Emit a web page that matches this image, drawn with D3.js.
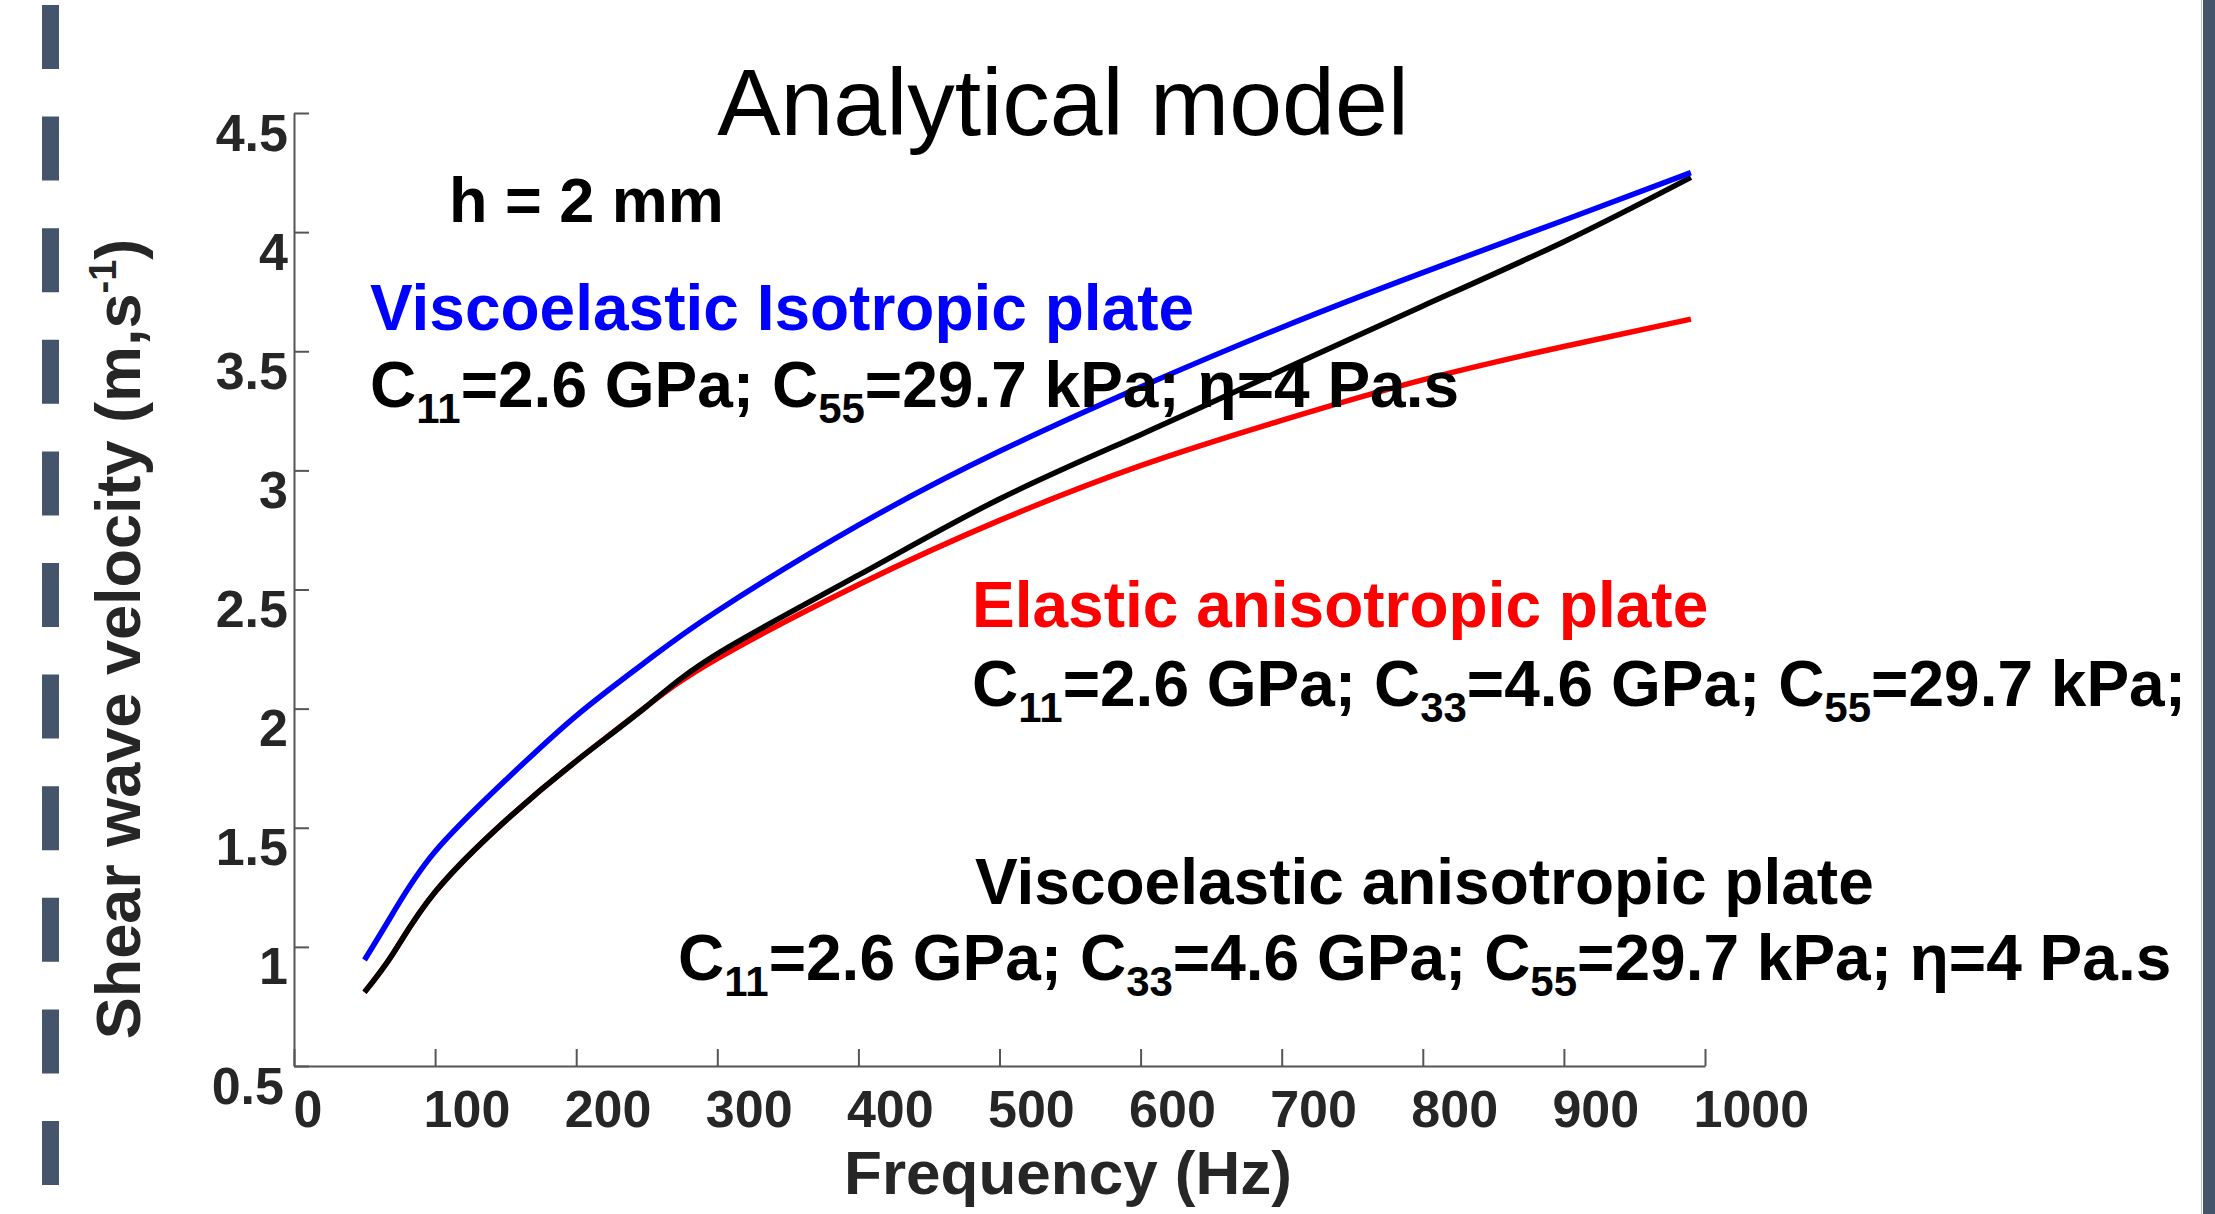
<!DOCTYPE html>
<html>
<head>
<meta charset="utf-8">
<script src="https://cdn.jsdelivr.net/npm/d3@7"></script>
<style>
  html, body { margin: 0; padding: 0; background: #ffffff; }
  svg { display: block; }
  text { font-family: "Liberation Sans", Arial, Helvetica, sans-serif; }
</style>
</head>
<body>
<svg id="chart" width="2215" height="1214"></svg>
<script>
// ---------- data ----------
const frequencies = [50, 70, 100, 150, 200, 250, 300, 400, 500, 600, 700, 800, 900, 990];
const viscoIsotropic   = [0.945, 1.14, 1.40, 1.70, 1.97, 2.20, 2.41, 2.77, 3.08, 3.35, 3.60, 3.83, 4.05, 4.25];
const elasticAniso     = [0.81, 0.97, 1.23, 1.53, 1.78, 2.01, 2.21, 2.52, 2.79, 3.02, 3.21, 3.38, 3.52, 3.635];
const viscoAniso       = [0.81, 0.97, 1.23, 1.53, 1.78, 2.01, 2.23, 2.56, 2.88, 3.15, 3.42, 3.69, 3.96, 4.23];
const xTickValues = [0, 100, 200, 300, 400, 500, 600, 700, 800, 900, 1000];
const yTickValues = [0.5, 1, 1.5, 2, 2.5, 3, 3.5, 4, 4.5];
const yTickLabels = ["0.5", "1", "1.5", "2", "2.5", "3", "3.5", "4", "4.5"];
const titleText = "Analytical model";
const xLabelText = "Frequency (Hz)";
const thicknessText = "h = 2 mm";
const seriesNames = ["Viscoelastic Isotropic plate", "Elastic anisotropic plate", "Viscoelastic anisotropic plate"];
// parameter lines: [main text, subscript] pairs
const paramsIso = [["C", "11"], ["=2.6 GPa; C", "55"], ["=29.7 kPa; \u03b7=4 Pa.s", ""]];
const paramsElastic = [["C", "11"], ["=2.6 GPa; C", "33"], ["=4.6 GPa; C", "55"], ["=29.7 kPa;", ""]];
const paramsVisco = [["C", "11"], ["=2.6 GPa; C", "33"], ["=4.6 GPa; C", "55"], ["=29.7 kPa; \u03b7=4 Pa.s", ""]];

// ---------- layout ----------
const svg = d3.select("#chart");
const plotLeft = 294, plotRight = 1705, plotTop = 113, plotBottom = 1066;
const x = d3.scaleLinear().domain([0, 1000]).range([plotLeft, plotRight]);
const y = d3.scaleLinear().domain([0.5, 4.5]).range([plotBottom, plotTop]);

const slate = "#44546a";
const axisColor = "#555555";
const textColor = "#262626";

// decorative borders
svg.append("line")
  .attr("x1", 50.5).attr("x2", 50.5).attr("y1", 5).attr("y2", 1214)
  .attr("stroke", slate).attr("stroke-width", 17)
  .attr("stroke-dasharray", "64 47.6");
svg.append("rect").attr("x", 2203).attr("y", 0).attr("width", 12).attr("height", 1214).attr("fill", slate);
svg.append("line").attr("x1", 2201.5).attr("x2", 2201.5).attr("y1", 0).attr("y2", 1214)
  .attr("stroke", "#b9bec6").attr("stroke-width", 1);

// ---------- axes ----------
const xAxis = d3.axisBottom(x).tickValues(xTickValues).tickSizeInner(-17).tickSizeOuter(0).tickFormat(d3.format("d"));
const gx = svg.append("g").attr("transform", `translate(0,${plotBottom})`).call(xAxis);
gx.select(".domain").attr("stroke", axisColor).attr("stroke-width", 2);
gx.selectAll(".tick line").attr("stroke", axisColor).attr("stroke-width", 2);
gx.selectAll(".tick text")
  .attr("fill", textColor).attr("font-size", 52).attr("font-weight", "bold")
  .attr("font-family", "Liberation Sans, Arial, sans-serif")
  .attr("text-anchor", "start").attr("x", d => d === 0 ? -1 : -12).attr("y", 61).attr("dy", 0);

const yAxis = d3.axisLeft(y).tickValues(yTickValues).tickSizeInner(-15).tickSizeOuter(0)
  .tickFormat((d, i) => yTickLabels[i]);
const gy = svg.append("g").attr("transform", `translate(${plotLeft},0)`).call(yAxis);
gy.select(".domain").attr("stroke", axisColor).attr("stroke-width", 2);
gy.selectAll(".tick line").attr("stroke", axisColor).attr("stroke-width", 2);
gy.selectAll(".tick text")
  .attr("fill", textColor).attr("font-size", 52).attr("font-weight", "bold")
  .attr("font-family", "Liberation Sans, Arial, sans-serif")
  .attr("text-anchor", "end").attr("x", d => d === 0.5 ? -10 : -6).attr("y", 37).attr("dy", 0);

// ---------- curves ----------
const line = d3.line().x((d, i) => x(frequencies[i])).y(d => y(d)).curve(d3.curveNatural);
const series = [
  { values: elasticAniso, color: "#ff0000" },
  { values: viscoAniso, color: "#000000" },
  { values: viscoIsotropic, color: "#0000ff" }
];
svg.append("g").selectAll("path").data(series).join("path")
  .attr("d", d => line(d.values))
  .attr("fill", "none").attr("stroke", d => d.color).attr("stroke-width", 5.5)
  .attr("stroke-linejoin", "round");

// ---------- texts ----------
svg.append("text").attr("x", 1063).attr("y", 135).attr("text-anchor", "middle")
  .attr("font-size", 95).attr("fill", "#000").text(titleText);

svg.append("text").attr("x", 1068).attr("y", 1194).attr("text-anchor", "middle")
  .attr("font-size", 62).attr("font-weight", "bold").attr("fill", textColor).text(xLabelText);

const yl = svg.append("text").attr("transform", "translate(140,639) rotate(-90)")
  .attr("text-anchor", "middle").attr("font-size", 63).attr("font-weight", "bold").attr("fill", textColor);
yl.append("tspan").text("Shear wave velocity (m,s");
yl.append("tspan").attr("font-size", 38).attr("dy", -24).text("-1");
yl.append("tspan").attr("dy", 24).text(")");

svg.append("text").attr("x", 449).attr("y", 222)
  .attr("font-size", 63).attr("font-weight", "bold").attr("fill", "#000").text(thicknessText);

function addLabel(txt, xx, yy, color) {
  svg.append("text").attr("x", xx).attr("y", yy)
    .attr("font-size", 64).attr("font-weight", "bold").attr("fill", color).text(txt);
}
function addParams(parts, xx, yy) {
  const t = svg.append("text").attr("x", xx).attr("y", yy)
    .attr("font-size", 64).attr("font-weight", "bold").attr("fill", "#000");
  parts.forEach((p, i) => {
    t.append("tspan").attr("font-size", 64).attr("dy", i === 0 ? 0 : -16).text(p[0]);
    if (p[1]) t.append("tspan").attr("font-size", 42).attr("dy", 16).text(p[1]);
  });
}
addLabel(seriesNames[0], 370, 330, "#0000ff");
addParams(paramsIso, 370, 407);
addLabel(seriesNames[1], 972, 627, "#ff0000");
addParams(paramsElastic, 972, 706);
addLabel(seriesNames[2], 975, 904, "#000000");
addParams(paramsVisco, 678, 980);
</script>
</body>
</html>
